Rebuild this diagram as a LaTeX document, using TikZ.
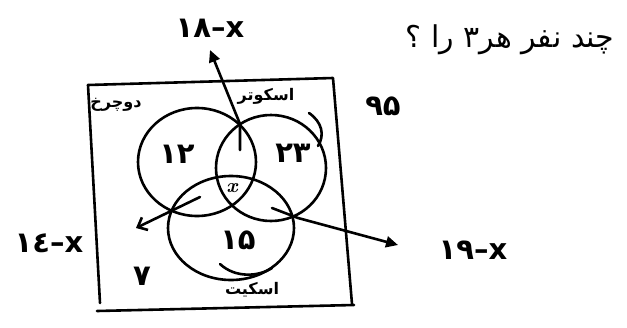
\documentclass[tikz,border=0pt]{standalone}
\usepackage{fontspec}
\newfontfamily\arabicfont[Script=Arabic]{DejaVu Sans}
\TeXXeTstate=1
\usetikzlibrary{arrows.meta}

\begin{document}
\begin{tikzpicture}[
      x=1pt, y=-1pt,
      hand/.style={line width=2.6pt, line cap=round, line join=round},
      num/.style={font=\arabicfont\bfseries\fontsize{29}{29}\selectfont, inner sep=0pt},
      word/.style={font=\arabicfont\bfseries\fontsize{16}{16}\selectfont, inner sep=0pt},
      arrow/.style={hand, -{Triangle[length=12pt, width=11pt]}},
      openarrow/.style={hand, -{Straight Barb[length=8pt, width=14pt]}}
    ]
    \useasboundingbox (0,0) rectangle (627,327);

    % --- question ---
    \node[num, font=\arabicfont\fontsize{30}{30}\selectfont] (question) at (510,40)
      {\beginR چند نفر هر۳ را ؟\endR};

    % --- universe box ---
    \draw[hand] (88,85) -- (333,78) -- (352,304);
    \draw[hand] (88,85) -- (100,303);
    \draw[hand] (97,311) -- (354,305);

    % --- three sets ---
    \draw[hand] (197,162) ellipse [x radius=59, y radius=54];
    \draw[hand] (271,168) ellipse [x radius=55, y radius=53];
    \draw[hand] (231,228) ellipse [x radius=63, y radius=52];
    \draw[hand] (309,113) .. controls (322,122) and (325,135) .. (318,146);
    \draw[hand] (220,264) .. controls (235,278) and (258,277) .. (272,268);

    % --- set names ---
    \node[word] (bike) at (116,105) {\beginR دوچرخ\endR};
    \node[word] (scooter) at (266,96) {\beginR اسکوتر\endR};
    \node[word] (skate) at (252,290) {\beginR اسکیت\endR};

    % --- region counts ---
    \node[num] (total) at (383,106) {۹۵};
    \node[num] (onlyA) at (177,154) {۱۲};
    \node[num] (onlyB) at (293,153) {۲۳};
    \node[num] (onlyC) at (238,240) {۱۵};
    \node[num] (none) at (142,276) {۷};
    \node[num, font=\bfseries\fontsize{20}{20}\selectfont\itshape] (all) at (232,188) {x};

    % --- two-set regions ---
    \node[num] (ab) at (210,28) {۱۸–x};
    \node[num] (ac) at (49,243) {۱٤–x};
    \node[num] (bc) at (473,250) {۱۹–x};

    \coordinate (abTail) at (240,150);
    \coordinate (abKnee) at (240,124);
    \coordinate (abTip) at (210,50);
    \coordinate (acTail) at (200,197);
    \coordinate (acTip) at (136,228);
    \coordinate (bcTail) at (272,208);
    \coordinate (bcKnee) at (298,218);
    \coordinate (bcTip) at (398,245);

    \draw[arrow] (abTail) -- (abKnee) -- (abTip);
    \draw[openarrow] (acTail) -- (acTip);
    \draw[arrow] (bcTail) -- (bcKnee) -- (bcTip);
  \end{tikzpicture}
\end{document}
